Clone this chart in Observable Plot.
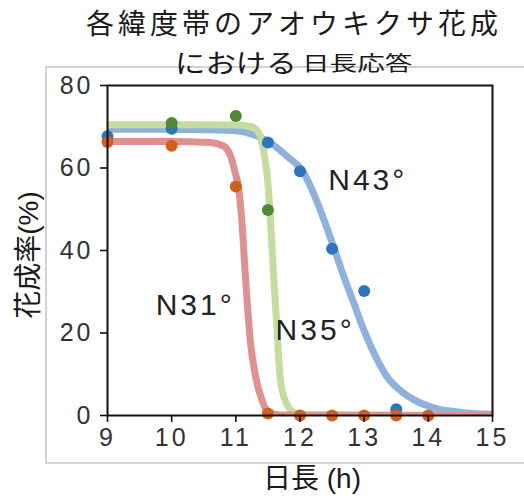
<!DOCTYPE html>
<html>
<head>
<meta charset="utf-8">
<script src="https://cdn.jsdelivr.net/npm/d3@7"></script>
<script src="https://cdn.jsdelivr.net/npm/@observablehq/plot@0.6"></script>
<style>
  html, body { margin: 0; padding: 0; background: #fff; overflow: hidden; }
  #wrap { position: relative; width: 524px; height: 499px; overflow: hidden; }
  .t { position: absolute; white-space: nowrap; color: #1a1a1a; font-family: "Noto Sans CJK JP", sans-serif; line-height: 1; }
  #frame { position: absolute; left: 45px; top: 66px; width: 520px; height: 394px; border: 2px solid #d3d3d3; box-sizing: content-box; }
</style>
</head>
<body>
<div id="wrap">
  <div id="frame"></div>
  <div id="chart" style="position:absolute;left:0;top:0;"></div>
  <div class="t" id="title1"></div>
  <div class="t" id="title2a"></div>
  <div class="t" id="title2b"></div>
  <div class="t" id="xlab"></div>
  <div class="t" id="ylab"></div>
</div>
<script>
// ---- text ----
const titleLine1 = "各緯度帯のアオウキクサ花成";
const titleLine2a = "における";
const titleLine2b = "日長応答";
const xTitle = "日長 (h)";
const yTitle = "花成率(%)";

// ---- ticks ----
const xTicks = [9, 10, 11, 12, 13, 14, 15];
const yTicks = [0, 20, 40, 60, 80];

// ---- series names and labels ----
const seriesNames = ["N43°", "N35°", "N31°"];
const labelX = [12.44, 11.62, 9.75];
const labelY = [57, 20.7, 26.8];

// ---- observed points ----
const blueDotX = [9, 10, 11.5, 12, 12.5, 13, 13.5];
const blueDotY = [67.7, 69.5, 66.2, 59.2, 40.4, 30.2, 1.5];
const greenDotX = [10, 11, 11.5];
const greenDotY = [70.9, 72.6, 49.8];
const orangeDotX = [9, 10, 11, 11.5, 12, 12.5, 13, 13.5, 14];
const orangeDotY = [66.3, 65.4, 55.5, 0.5, 0, 0, 0, 0, 0];

// ---- fitted curves ----
const blueCurveX = [9, 10, 10.5, 11, 11.25, 11.54, 11.8, 12.06, 12.21, 12.37, 12.53, 12.68, 12.84, 12.99, 13.15, 13.36, 13.56, 13.8, 14.1, 14.55, 15];
const blueCurveY = [69.4, 69.4, 69.3, 69.0, 68.2, 66.1, 62.8, 58.8, 53.9, 47.6, 40.6, 33.8, 27.2, 20.9, 15.2, 9.3, 6.1, 3.6, 1.8, 0.7, 0.3];
const greenCurveX = [9, 10, 11, 11.18, 11.28, 11.38, 11.43, 11.49, 11.53, 11.59, 11.64, 11.69, 11.77, 11.9, 12.05, 15];
const greenCurveY = [70.5, 70.5, 70.4, 70.2, 69.8, 67.7, 64.5, 58, 49.9, 33.6, 21.5, 9.3, 3.6, 0.8, 0.1, 0];
const redCurveX = [9, 10, 10.6, 10.81, 10.92, 10.99, 11.04, 11.1, 11.15, 11.23, 11.31, 11.41, 11.51, 11.7, 15];
const redCurveY = [66.4, 66.4, 66.2, 65.3, 62.8, 58.8, 55.5, 45.8, 33.6, 17.4, 9.3, 3.6, 0.8, 0.1, 0];

const lineColors = ["#8fb1dd", "#c4dc9e", "#e0918f"];
const dotColors = ["#2e75bf", "#4f8a33", "#d2601a"];

const curves = [
  blueCurveX.map((x, i) => ({x, y: blueCurveY[i], s: 0})),
  greenCurveX.map((x, i) => ({x, y: greenCurveY[i], s: 1})),
  redCurveX.map((x, i) => ({x, y: redCurveY[i], s: 2}))
];
const dots = [
  blueDotX.map((x, i) => ({x, y: blueDotY[i], s: 0})),
  greenDotX.map((x, i) => ({x, y: greenDotY[i], s: 1})),
  orangeDotX.map((x, i) => ({x, y: orangeDotY[i], s: 2}))
];
const labels = seriesNames.map((name, i) => ({name, x: labelX[i], y: labelY[i]}));

const latin = '"Liberation Sans", Arial, "Noto Sans CJK JP", sans-serif';

const chart = Plot.plot({
  width: 524,
  height: 499,
  marginTop: 85,
  marginBottom: 84,
  marginLeft: 107,
  marginRight: 32,
  style: {fontFamily: latin, background: "transparent", overflow: "visible"},
  x: {domain: [9, 15]},
  y: {domain: [0, 80]},
  marks: [
    ...curves.map((c, i) => Plot.line(c, {x: "x", y: "y", stroke: lineColors[i], strokeWidth: 7, curve: "monotone-x", strokeLinejoin: "round", strokeLinecap: "butt", clip: true})),
    ...dots.map((d, i) => Plot.dot(d, {x: "x", y: "y", r: 6, fill: dotColors[i], stroke: "none"})),
    Plot.text(labels, {x: "x", y: "y", text: "name", textAnchor: "start", lineAnchor: "middle", fontSize: 30, fill: "#222", fontFamily: latin}),
    Plot.frame({stroke: "#111", strokeWidth: 2}),
    Plot.axisX({ticks: xTicks, tickSize: 7, tickPadding: 6, fontSize: 25, tickFormat: d => String(d), label: null, stroke: "#111", strokeWidth: 1.6, color: "#333"}),
    Plot.axisY({ticks: yTicks, tickSize: 7, tickPadding: 7, fontSize: 25, tickFormat: d => String(d), label: null, stroke: "#111", strokeWidth: 1.6, color: "#333"})
  ]
});
// widen the Latin lettering a little, as in the reference
chart.querySelectorAll("text").forEach(t => { t.style.letterSpacing = "3px"; });
document.getElementById("chart").appendChild(chart);

function place(id, text, opts) {
  const el = document.getElementById(id);
  el.textContent = text;
  Object.assign(el.style, opts);
}
place("title1", titleLine1, {fontSize: "28px", letterSpacing: "4px", left: "0px", top: "8px", width: "588px", textAlign: "center"});
place("title2a", titleLine2a, {fontSize: "26px", left: "175px", top: "49px", display: "inline-block", transform: "scaleX(1.17)", transformOrigin: "left center"});
place("title2b", titleLine2b, {fontSize: "20px", left: "302px", top: "53px", display: "inline-block", transform: "scaleX(1.38)", transformOrigin: "left center"});
place("xlab", xTitle, {fontSize: "28px", fontFamily: latin, left: "0px", top: "465px", width: "624px", textAlign: "center"});
place("ylab", yTitle, {fontSize: "28px", fontFamily: latin, left: "29px", top: "255px", transform: "translate(-50%, -50%) rotate(-90deg)"});
</script>
</body>
</html>
